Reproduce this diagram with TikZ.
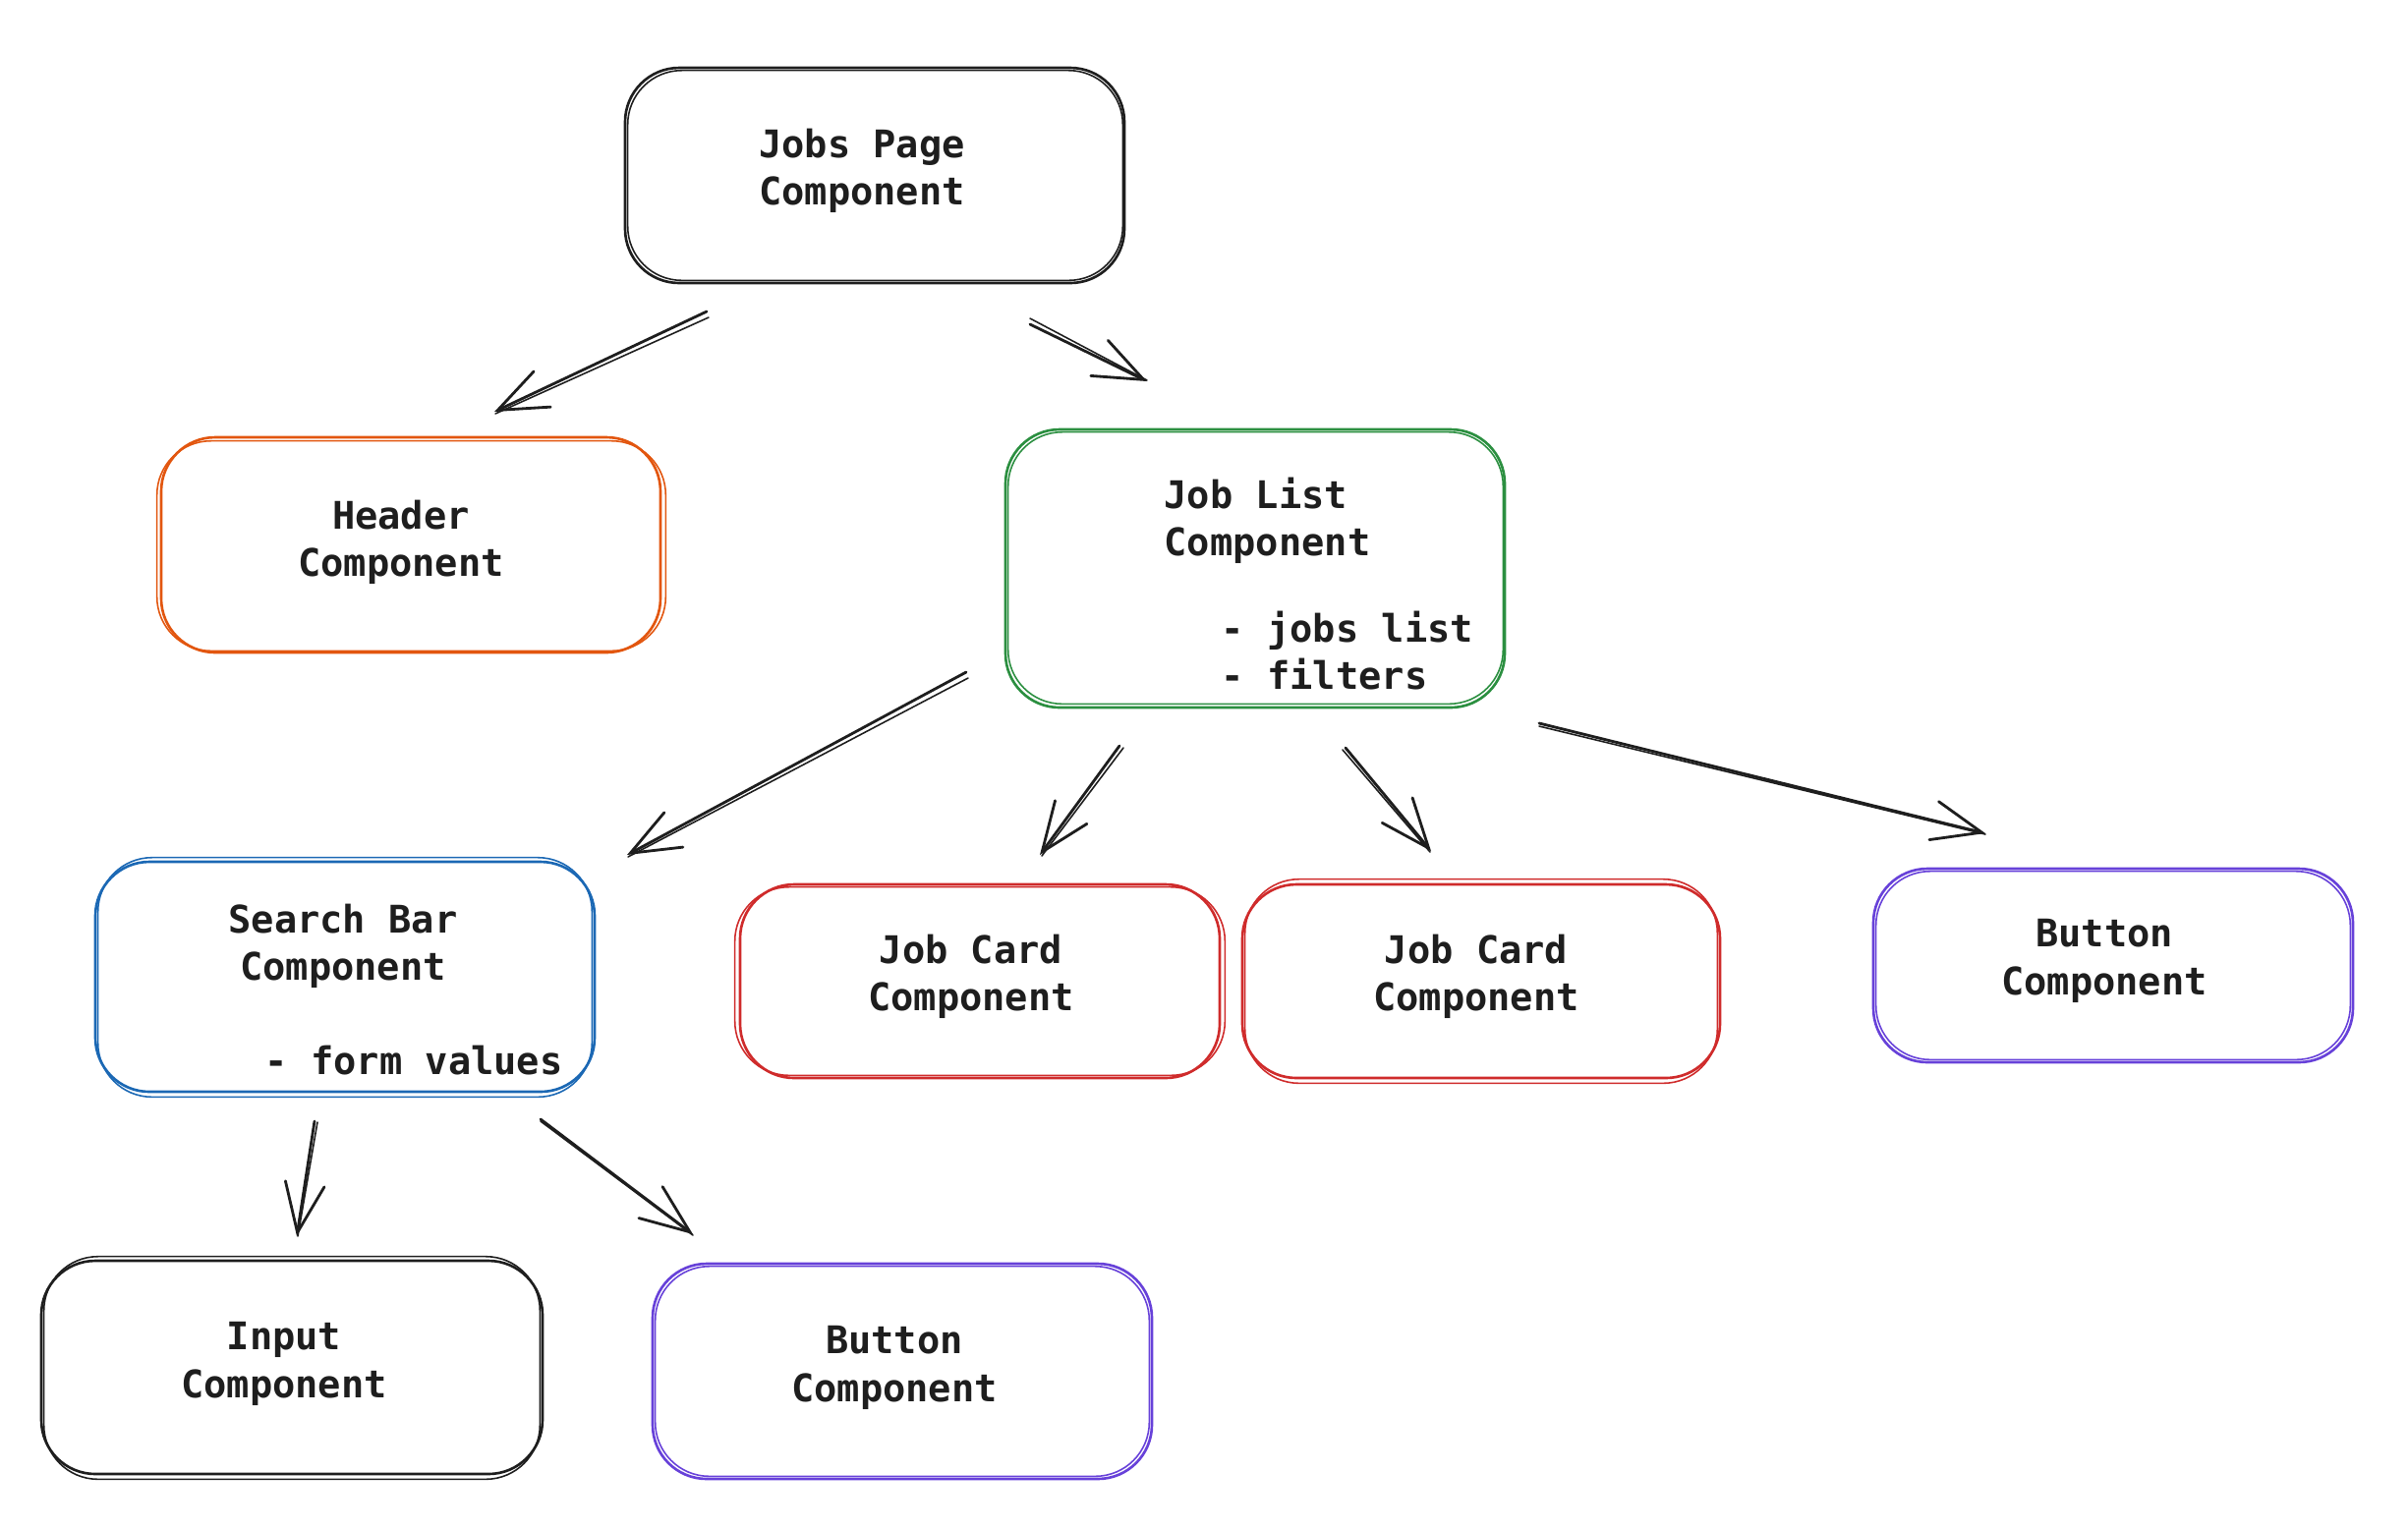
\documentclass[tikz,border=0pt]{standalone}
\usepackage{fontspec}
\setmonofont{DejaVu Sans Mono}
\usetikzlibrary{arrows.meta,fit}
\definecolor{cOrange}{HTML}{E2560F}
\definecolor{cGreen}{HTML}{2B8F40}
\definecolor{cBlue}{HTML}{1B68B4}
\definecolor{cRed}{HTML}{CF2B2B}
\definecolor{cViolet}{HTML}{6741D9}
\definecolor{cInk}{HTML}{1E1E1E}
\begin{document}
\begin{tikzpicture}[x=0.01cm,y=-0.01cm,
  box/.style={draw=#1, line width=0.75pt, rounded corners=0.55cm, inner sep=0pt},
  boxtwo/.style={draw=#1, line width=0.45pt, rounded corners=0.55cm},
  lbl/.style={font=\ttfamily\bfseries\fontsize{11}{13.75}\selectfont, align=center, inner sep=0pt, text=cInk},
  lbll/.style={lbl, align=left, anchor=west},
  arr/.style={draw=cInk, line width=0.8pt, line cap=round, -{Straight Barb[length=5mm,width=4mm,line cap=round]}},
  arrtwo/.style={draw=cInk, line width=0.45pt, line cap=round}]
\useasboundingbox (0,0) rectangle (2450,1556);

% boxes
\node[box=cInk,    fit={(636,69)(1144,288)}]    (jp)  {};
\node[box=cOrange, fit={(164,445)(672,664)}]    (hd)  {};
\node[box=cGreen,  fit={(1023,437)(1531,720)}]  (jl)  {};
\node[box=cBlue,   fit={(97,877)(605,1111)}]    (sb)  {};
\node[box=cRed,    fit={(753,900)(1241,1097)}]  (jc1) {};
\node[box=cRed,    fit={(1264,900)(1750,1097)}] (jc2) {};
\node[box=cViolet, fit={(1906,884)(2394,1081)}] (btr) {};
\node[box=cInk,    fit={(42,1283)(552,1500)}]   (in)  {};
\node[box=cViolet, fit={(664,1286)(1172,1505)}] (btb) {};

% second sketchy strokes
\draw[boxtwo=cInk]    ([shift={(4,4)}]jp.north west)  rectangle ([shift={(-3,-4)}]jp.south east);
\draw[boxtwo=cOrange] ([shift={(-3,5)}]hd.north west) rectangle ([shift={(4,-3)}]hd.south east);
\draw[boxtwo=cGreen]  ([shift={(4,4)}]jl.north west)  rectangle ([shift={(-3,-5)}]jl.south east);
\draw[boxtwo=cBlue]   ([shift={(4,-3)}]sb.north west) rectangle ([shift={(-4,4)}]sb.south east);
\draw[boxtwo=cRed]    ([shift={(-4,4)}]jc1.north west) rectangle ([shift={(4,-4)}]jc1.south east);
\draw[boxtwo=cRed]    ([shift={(4,-4)}]jc2.north west) rectangle ([shift={(-4,4)}]jc2.south east);
\draw[boxtwo=cViolet] ([shift={(4,4)}]btr.north west) rectangle ([shift={(-4,-4)}]btr.south east);
\draw[boxtwo=cInk]    ([shift={(4,-3)}]in.north west) rectangle ([shift={(-4,4)}]in.south east);
\draw[boxtwo=cViolet] ([shift={(4,4)}]btb.north west) rectangle ([shift={(-4,-4)}]btb.south east);

% labels
\node[lbl] (jpt)  at (877,174)  {Jobs Page\\Component};
\node[lbl] (hdt)  at (408,552)  {Header\\Component};
\node[lbll] (jlt) at (1184,530) {Job List\\Component};
\node[lbll] (jlf) at (1242,662) {- jobs list\\- filters};
\node[lbl] (sbt)  at (349,963)  {Search Bar\\Component};
\node[lbll] (sbf) at (269,1079) {- form values};
\node[lbl] (jc1t) at (988,994)  {Job Card\\Component};
\node[lbl] (jc2t) at (1502,994) {Job Card\\Component};
\node[lbl] (btrt) at (2141,978) {Button\\Component};
\node[lbl] (intt) at (289,1388) {Input\\Component};
\node[lbl] (btbt) at (910,1392) {Button\\Component};

% arrow end points
\coordinate (a1s) at (719,317);  \coordinate (a1e) at (503,419);
\coordinate (a2s) at (1048,330); \coordinate (a2e) at (1167,388);
\coordinate (a3s) at (983,684);  \coordinate (a3e) at (638,870);
\coordinate (a4s) at (1139,759); \coordinate (a4e) at (1058,870);
\coordinate (a5s) at (1369,761); \coordinate (a5e) at (1456,866);
\coordinate (a6s) at (1566,736); \coordinate (a6e) at (2020,848);
\coordinate (a7s) at (320,1141); \coordinate (a7e) at (302,1258);
\coordinate (a8s) at (550,1139); \coordinate (a8e) at (705,1256);

% arrows
\draw[arr] (a1s) -- (a1e);
\draw[arr] (a2s) -- (a2e);
\draw[arr] (a3s) -- (a3e);
\draw[arr] (a4s) -- (a4e);
\draw[arr] (a5s) -- (a5e);
\draw[arr] (a6s) -- (a6e);
\draw[arr] (a7s) -- (a7e);
\draw[arr] (a8s) -- (a8e);

% second sketchy strokes of arrows
\draw[arrtwo] ([shift={(2,6)}]a1s) -- ([shift={(1,2)}]a1e);
\draw[arrtwo] ([shift={(0,-6)}]a2s) -- ([shift={(0,-1)}]a2e);
\draw[arrtwo] ([shift={(2,6)}]a3s) -- ([shift={(1,2)}]a3e);
\draw[arrtwo] ([shift={(4,2)}]a4s) -- ([shift={(2,1)}]a4e);
\draw[arrtwo] ([shift={(-3,2)}]a5s) -- ([shift={(-1,1)}]a5e);
\draw[arrtwo] ([shift={(0,3)}]a6s) -- ([shift={(0,1)}]a6e);
\draw[arrtwo] ([shift={(3,1)}]a7s) -- ([shift={(1,0)}]a7e);
\draw[arrtwo] ([shift={(0,2)}]a8s) -- ([shift={(0,1)}]a8e);
\end{tikzpicture}
\end{document}
